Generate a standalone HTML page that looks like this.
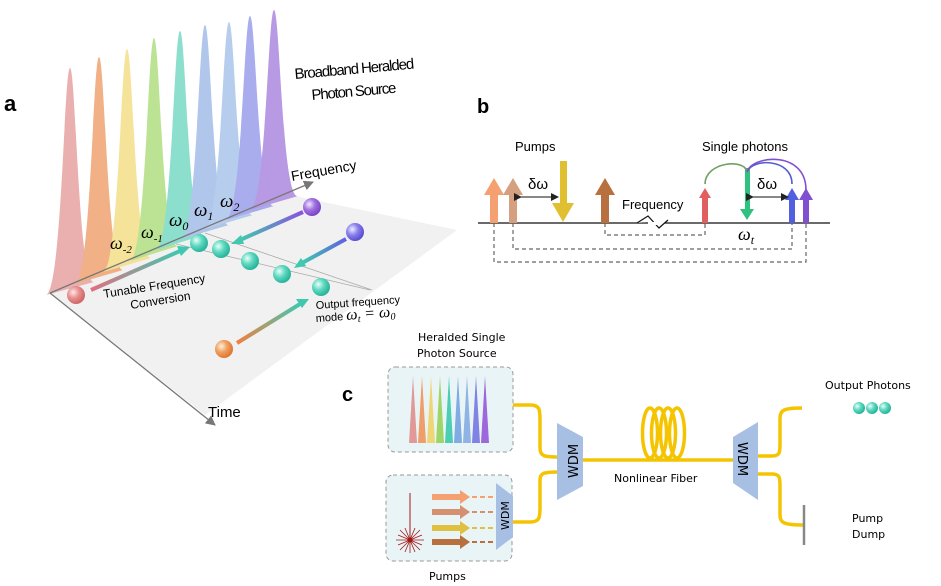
<!DOCTYPE html>
<html><head><meta charset="utf-8"><style>
html,body{margin:0;padding:0;background:#fff;}
svg{display:block;}
.s{font-family:"DejaVu Sans","Liberation Sans",sans-serif;}
.l{font-family:"Liberation Sans",sans-serif;}
.m{font-family:"Liberation Serif",serif;font-style:italic;}
</style></head><body>
<svg width="941" height="586" viewBox="0 0 941 586" xmlns="http://www.w3.org/2000/svg">
<defs>
<radialGradient id="gt" cx="35%" cy="35%" r="65%"><stop offset="0" stop-color="#e8fff8"/><stop offset="0.5" stop-color="#5fd8c0"/><stop offset="1" stop-color="#2ab49c"/></radialGradient>
<radialGradient id="gp" cx="35%" cy="35%" r="65%"><stop offset="0" stop-color="#f0e8ff"/><stop offset="0.5" stop-color="#a070e0"/><stop offset="1" stop-color="#7a48c8"/></radialGradient>
<radialGradient id="gb" cx="35%" cy="35%" r="65%"><stop offset="0" stop-color="#eeeeff"/><stop offset="0.5" stop-color="#8a80ec"/><stop offset="1" stop-color="#5a50d0"/></radialGradient>
<radialGradient id="gr" cx="35%" cy="35%" r="65%"><stop offset="0" stop-color="#ffe8e8"/><stop offset="0.5" stop-color="#e89090"/><stop offset="1" stop-color="#d06868"/></radialGradient>
<radialGradient id="go" cx="35%" cy="35%" r="65%"><stop offset="0" stop-color="#fff0e0"/><stop offset="0.5" stop-color="#f0a060"/><stop offset="1" stop-color="#e07830"/></radialGradient>
<linearGradient id="lr" x1="0" x2="1"><stop offset="0" stop-color="#e07080"/><stop offset="1" stop-color="#40c8b0"/></linearGradient>
<linearGradient id="lo" x1="0" x2="1"><stop offset="0" stop-color="#f08040"/><stop offset="1" stop-color="#40c8b0"/></linearGradient>
<linearGradient id="lp" x1="1" x2="0"><stop offset="0" stop-color="#8a50e0"/><stop offset="1" stop-color="#40c8b0"/></linearGradient>
<linearGradient id="lb" x1="1" x2="0"><stop offset="0" stop-color="#6060e0"/><stop offset="1" stop-color="#40c8b0"/></linearGradient>
<marker id="ah" markerWidth="8" markerHeight="8" refX="7" refY="4" orient="auto" markerUnits="userSpaceOnUse"><path d="M0,0 L8,4 L0,8 z" fill="#222"/></marker>
<marker id="ag" markerWidth="10" markerHeight="10" refX="9" refY="5" orient="auto" markerUnits="userSpaceOnUse"><path d="M0,0 L10,5 L0,10 z" fill="#777"/></marker>
</defs>

<!-- Panel a -->
<text x="4" y="111" class="l" font-size="22" font-weight="bold">a</text>
<polygon points="50,293 290,195 457,230 205,415" fill="#f1f1f1"/>
<g opacity="0.9">
<path d="M46,295 C62,290 64,68 70,68 C76,68 78,285 94,282" fill="#e8a8a8"/>
<path d="M75,284 C91,280 93,57 99,57 C105,57 107,272 123,270" fill="#f0a878"/>
<path d="M103,272 C119,268 121,49 127,49 C133,49 135,262 151,258" fill="#f4e090"/>
<path d="M130,261 C146,256 148,38 154,38 C160,38 162,251 178,246" fill="#b4e088"/>
<path d="M156,250 C172,245 174,31 180,31 C186,31 188,240 204,235" fill="#80dcc8"/>
<path d="M181,239 C197,234 199,25 205,25 C211,25 213,230 229,225" fill="#a8c0e8"/>
<path d="M205,229 C221,224 223,22 229,22 C235,22 237,220 253,215" fill="#b0c8ec"/>
<path d="M226,220 C242,215 244,16 250,16 C256,16 258,211 274,206" fill="#a0a4ec"/>
<path d="M250,210 C266,205 268,10 274,10 C280,10 282,201 298,196" fill="#b090e0"/>
</g>
<line x1="50" y1="293" x2="313" y2="182" stroke="#777" stroke-width="1.3" marker-end="url(#ag)"/>
<line x1="50" y1="293" x2="215" y2="425" stroke="#777" stroke-width="1.3" marker-end="url(#ag)"/>
<line x1="176" y1="244" x2="370" y2="290" stroke="#aaa" stroke-width="0.8"/>
<line x1="205" y1="233" x2="372" y2="290" stroke="#aaa" stroke-width="0.8" transform="translate(0,0)"/>
<text x="110" y="249" class="m" font-size="18">ω<tspan font-size="11" dy="4">-2</tspan></text>
<text x="141" y="238" class="m" font-size="18">ω<tspan font-size="11" dy="4">-1</tspan></text>
<text x="169" y="226" class="m" font-size="19">ω<tspan font-size="12" dy="4">0</tspan></text>
<text x="194" y="216" class="m" font-size="19">ω<tspan font-size="12" dy="4">1</tspan></text>
<text x="220" y="207" class="m" font-size="19">ω<tspan font-size="12" dy="4">2</tspan></text>
<text x="292" y="181" class="l" font-size="14" transform="rotate(-10 292 181)">Frequency</text>
<text x="295" y="79" class="l" font-size="15" transform="rotate(-5 295 79)" textLength="120">Broadband Heralded</text>
<text x="312" y="100" class="l" font-size="15" transform="rotate(-5 312 100)" textLength="85">Photon Source</text>
<text x="208" y="417" class="l" font-size="15">Time</text>
<text x="104" y="298" class="l" font-size="12" transform="rotate(-9 104 298)">Tunable Frequency</text>
<text x="131" y="309" class="l" font-size="12" transform="rotate(-9 131 309)">Conversion</text>
<text x="316" y="309" class="l" font-size="11" transform="rotate(-4 316 309)">Output frequency</text>
<text x="316" y="322" class="l" font-size="11" transform="rotate(-4 316 322)">mode <tspan class="m" font-size="16">ω<tspan font-size="10" dy="3">t</tspan><tspan dy="-3"> = ω</tspan><tspan font-size="10" dy="3">0</tspan></tspan></text>
<line x1="91" y1="290" x2="180" y2="251" stroke="url(#lr)" stroke-width="4"/><path d="M190,247 L177,246 L181,256 z" fill="#40c8b0"/>
<line x1="237" y1="343" x2="300" y2="304" stroke="url(#lo)" stroke-width="4"/><path d="M309,299 L296,299 L302,308 z" fill="#40c8b0"/>
<line x1="303" y1="212" x2="240" y2="240" stroke="url(#lp)" stroke-width="4"/><path d="M231,244 L241,235 L244,244 z" fill="#40c8b0"/>
<line x1="346" y1="239" x2="302" y2="263" stroke="url(#lb)" stroke-width="4"/><path d="M294,268 L301,258 L306,266 z" fill="#40c8b0"/>
<circle cx="199" cy="243" r="9" fill="url(#gt)"/>
<circle cx="221" cy="249" r="9" fill="url(#gt)"/>
<circle cx="250" cy="261" r="9" fill="url(#gt)"/>
<circle cx="282" cy="274" r="9" fill="url(#gt)"/>
<circle cx="321" cy="287" r="9" fill="url(#gt)"/>
<circle cx="312" cy="207" r="9" fill="url(#gp)"/>
<circle cx="355" cy="232" r="9" fill="url(#gb)"/>
<circle cx="76" cy="295" r="9" fill="url(#gr)"/>
<circle cx="224" cy="349" r="9" fill="url(#go)"/>

<!-- Panel b -->
<text x="477" y="113" class="l" font-size="20" font-weight="bold">b</text>
<text x="515" y="151" class="l" font-size="13">Pumps</text>
<text x="702" y="151" class="l" font-size="13">Single photons</text>
<line x1="478" y1="223" x2="830" y2="223" stroke="#111" stroke-width="1.3"/>
<g stroke="#666" stroke-width="1.2" stroke-dasharray="4,3" fill="none">
<path d="M605,223 V235 H705 V223"/>
<path d="M513,223 V249 H792 V223"/>
<path d="M494,223 V262 H806 V223"/>
</g>
<g>
<path d="M490,223 V195 H484 L494,178 L504,195 H498 V223 z" fill="#f4a070"/>
<path d="M509,223 V195 H503 L513,178 L523,195 H517 V223 z" fill="#d4a080"/>
<path d="M560,161 H567 V203 H574 L563,222 L552,203 H560 z" fill="#e0c030"/>
<path d="M601,223 V195 H595 L605,178 L615,195 H609 V223 z" fill="#b87040"/>
<path d="M702,223 V198 H699 L705,188 L711,198 H708 V223 z" fill="#e06060"/>
<path d="M745,168 H750 V209 H754 L747,220 L740,209 H745 z" fill="#30c080"/>
<path d="M789,223 V200 H785 L792,188 L799,200 H795 V223 z" fill="#5060e0"/>
<path d="M803,223 V200 H799 L806,188 L813,200 H809 V223 z" fill="#8050d0"/>
</g>
<g fill="none" stroke-width="1.6">
<path d="M705,184 C705,162 745,158 747,172" stroke="#70a060"/>
<path d="M792,184 C792,158 752,158 747,172" stroke="#5060d0"/>
<path d="M806,190 C806,150 752,155 747,172" stroke="#8050d0"/>
</g>
<line x1="521" y1="197" x2="558" y2="197" stroke="#111" marker-end="url(#ah)" marker-start="url(#ah)"/>
<line x1="753" y1="197" x2="788" y2="197" stroke="#111" marker-end="url(#ah)" marker-start="url(#ah)"/>
<text x="528" y="189" class="l" font-size="15">δω</text>
<text x="757" y="189" class="l" font-size="15">δω</text>
<text x="622" y="209" class="l" font-size="13">Frequency</text>
<path d="M637,223 L648,216 L659,228 L668,220" fill="#fff" stroke="#111" stroke-width="1.2"/>
<rect x="648" y="222" width="10" height="3" fill="#fff"/>
<text x="738" y="240" class="m" font-size="18">ω<tspan font-size="12" dy="4">t</tspan></text>

<!-- Panel c -->
<text x="342" y="401" class="l" font-size="20" font-weight="bold">c</text>
<text x="418" y="341" class="s" font-size="11">Heralded Single</text>
<text x="417" y="357" class="s" font-size="11">Photon Source</text>
<rect x="388" y="367" width="125" height="85" rx="7" fill="#e9f4f6" stroke="#999" stroke-dasharray="4,3"/>
<rect x="386" y="475" width="126" height="86" rx="7" fill="#e9f4f6" stroke="#999" stroke-dasharray="4,3"/>
<g opacity="0.85">
<path d="M409,443 L413,376 L417,443 z" fill="#e08888"/>
<path d="M418,443 L422,376 L426,443 z" fill="#f09050"/>
<path d="M427,443 L431,376 L435,443 z" fill="#f0d060"/>
<path d="M436,443 L440,376 L444,443 z" fill="#90d050"/>
<path d="M445,443 L449,376 L453,443 z" fill="#30c8a8"/>
<path d="M454,443 L458,376 L462,443 z" fill="#70a0e0"/>
<path d="M463,443 L467,376 L471,443 z" fill="#80a8e0"/>
<path d="M472,443 L476,376 L480,443 z" fill="#7070e0"/>
<path d="M481,443 L485,376 L489,443 z" fill="#9050d8"/>
</g>
<text x="429" y="580" class="s" font-size="11">Pumps</text>
<line x1="410" y1="493" x2="410" y2="540" stroke="#a01818" stroke-width="1"/>
<g stroke="#a01818" stroke-width="0.8">
<line x1="396" y1="540" x2="424" y2="540"/><line x1="410" y1="527" x2="410" y2="553"/>
<line x1="400" y1="530" x2="420" y2="550"/><line x1="400" y1="550" x2="420" y2="530"/>
<line x1="398" y1="535" x2="422" y2="545"/><line x1="398" y1="545" x2="422" y2="535"/>
<line x1="405" y1="528" x2="415" y2="552"/><line x1="415" y1="528" x2="405" y2="552"/>
</g>
<circle cx="410" cy="540" r="2.5" fill="#a01818"/>
<g>
<path d="M432,494 H460 V490 L470,497 L460,504 V500 H432 z" fill="#f4a070"/>
<path d="M432,509 H460 V505 L470,512 L460,519 V515 H432 z" fill="#d49070"/>
<path d="M432,525 H460 V521 L470,528 L460,535 V531 H432 z" fill="#e0c040"/>
<path d="M432,539 H460 V535 L470,542 L460,549 V545 H432 z" fill="#b87040"/>
</g>
<g stroke-width="2" stroke-dasharray="5,3">
<line x1="472" y1="497" x2="496" y2="497" stroke="#f4a070"/>
<line x1="472" y1="512" x2="496" y2="512" stroke="#d49070"/>
<line x1="472" y1="528" x2="496" y2="528" stroke="#e0c040"/>
<line x1="472" y1="542" x2="496" y2="542" stroke="#b87040"/>
</g>
<polygon points="496,483 513,496 513,537 496,550" fill="#a8bfe4"/>
<text x="0" y="0" class="s" font-size="11" transform="translate(509,530) rotate(-90)">WDM</text>
<g fill="none" stroke="#f5c400" stroke-width="3.5">
<path d="M513,405 H530 C540,405 540,410 540,420 V448 C540,456 544,457 558,457"/>
<path d="M513,522 H530 C540,522 540,517 540,507 V480 C540,473 544,472 558,472"/>
<path d="M583,460 H733"/>
<ellipse cx="650" cy="433" rx="7.5" ry="25"/>
<ellipse cx="659" cy="433" rx="7.5" ry="25"/>
<ellipse cx="668" cy="433" rx="7.5" ry="25"/>
<ellipse cx="677" cy="433" rx="7.5" ry="25"/>
<path d="M758,456 H772 C780,456 780,452 780,444 V418 C780,410 784,408 802,408"/>
<path d="M758,474 H772 C780,474 780,478 780,486 V515 C780,523 784,525 804,525"/>
</g>
<polygon points="557,423 583,437 583,486 557,500" fill="#a8bfe4"/>
<text x="0" y="0" class="s" font-size="13" transform="translate(578,478) rotate(-90)">WDM</text>
<polygon points="733,437 758,422 758,500 733,483" fill="#a8bfe4"/>
<text x="0" y="0" class="s" font-size="13" transform="translate(738,442) rotate(90)">WDM</text>
<text x="614" y="482" class="s" font-size="11">Nonlinear Fiber</text>
<line x1="804" y1="505" x2="804" y2="545" stroke="#888" stroke-width="2.5"/>
<text x="852" y="522" class="s" font-size="11">Pump</text>
<text x="852" y="538" class="s" font-size="11">Dump</text>
<text x="825" y="389" class="s" font-size="11">Output Photons</text>
<circle cx="859" cy="408" r="6" fill="url(#gt)"/>
<circle cx="872" cy="408" r="6" fill="url(#gt)"/>
<circle cx="885" cy="408" r="6" fill="url(#gt)"/>
</svg>
</body></html>
